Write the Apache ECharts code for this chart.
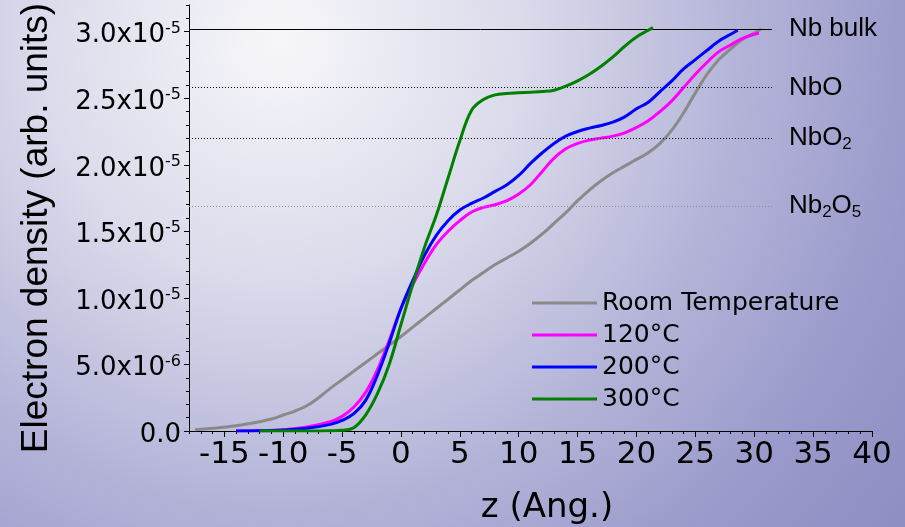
<!DOCTYPE html>
<html>
<head>
<meta charset="utf-8">
<script src="https://cdn.jsdelivr.net/npm/echarts@6/dist/echarts.min.js"></script>
<style>
  html, body { margin: 0; padding: 0; }
  #chart {
    width: 905px; height: 527px;
    background: radial-gradient(circle 820px at 280px 40px,
      #f7f7fa 0%, #dadaeb 30%, #b4b4d9 56%, #9999cb 79%, #8c8cc2 100%);
  }
</style>
</head>
<body>
<div id="chart"></div>
<script>
// Electron density profiles (units of 1e-5) versus depth z in Angstrom.
const seriesNames = ['Room Temperature', '120°C', '200°C', '300°C'];
const seriesColors = ['#8a8a8a', '#ff00ff', '#0000ff', '#008000'];

const roomZ = [-17.5, -16, -14, -12, -11, -10, -9, -8, -7, -6, -5, -4, -3, -2, -1, 0, 1, 2, 3, 4, 5,
  6, 7, 8, 9, 10, 11, 12, 13, 14, 15, 16, 17, 18, 19, 20, 21, 22, 23, 24, 25, 26, 27, 28, 29, 30, 30.6];
const roomV = [0.01, 0.02, 0.04, 0.07, 0.09, 0.12, 0.15, 0.19, 0.25, 0.32, 0.385, 0.45, 0.515, 0.58,
  0.645, 0.71, 0.78, 0.85, 0.92, 0.99, 1.06, 1.13, 1.19, 1.25, 1.30, 1.35, 1.41, 1.48, 1.56, 1.64,
  1.73, 1.81, 1.88, 1.94, 1.99, 2.04, 2.09, 2.16, 2.26, 2.39, 2.54, 2.68, 2.79, 2.87, 2.94, 2.99, 3.02];

const t120Z = [-14, -12, -10, -8, -6, -5, -4, -3, -2, -1, 0, 1, 2, 3, 4, 5, 6, 7, 8, 9, 10,
  11, 12, 13, 14, 15, 16, 17, 18, 19, 20, 21, 22, 23, 24, 25, 26, 27, 28, 29, 30, 30.4];
const t120V = [0, 0.003, 0.01, 0.03, 0.07, 0.11, 0.18, 0.29, 0.46, 0.68, 0.92, 1.10, 1.26, 1.40,
  1.50, 1.58, 1.645, 1.68, 1.70, 1.73, 1.78, 1.85, 1.95, 2.05, 2.12, 2.16, 2.185, 2.20, 2.215, 2.24,
  2.28, 2.33, 2.40, 2.48, 2.58, 2.68, 2.77, 2.85, 2.90, 2.95, 2.98, 2.99];

const t200Z = [-14, -12, -10, -8, -6, -5, -4, -3, -2, -1, 0, 1, 2, 3, 4, 5, 6, 7, 8, 9, 10,
  11, 12, 13, 14, 15, 16, 17, 18, 19, 20, 21, 22, 23, 24, 25, 26, 27, 28, 28.6];
const t200V = [0, 0.002, 0.008, 0.02, 0.05, 0.08, 0.13, 0.23, 0.42, 0.66, 0.92, 1.13, 1.32, 1.47,
  1.58, 1.66, 1.71, 1.75, 1.80, 1.85, 1.92, 2.01, 2.09, 2.16, 2.215, 2.25, 2.275, 2.295, 2.32, 2.36,
  2.42, 2.47, 2.55, 2.63, 2.72, 2.79, 2.86, 2.93, 2.98, 3.01];

const t300Z = [-12, -8, -6, -5, -4, -3, -2, -1, 0, 1, 2, 3, 4, 5, 6, 7, 8, 9, 10,
  11, 12, 13, 14, 15, 16, 17, 18, 19, 20, 21, 21.4];
const t300V = [0, 0, 0.002, 0.006, 0.025, 0.12, 0.28, 0.50, 0.80, 1.10, 1.38, 1.62, 1.90, 2.18,
  2.41, 2.49, 2.525, 2.535, 2.54, 2.545, 2.55, 2.56, 2.59, 2.63, 2.68, 2.74, 2.81, 2.89, 2.96, 3.01, 3.03];

// Reference density levels of the niobium phases.
const refLevels = [3.02, 2.58, 2.20, 1.69];
const refLabels = ['{m|Nb bulk}', '{m|NbO}', '{m|NbO}{s|2}', '{m|Nb}{s|2}{m|O}{s|5}'];
const refColors = ['#000000', '#000000', '#000000', '#8f8f8f'];
const refTypes = ['solid', [1, 2], [1, 2], [1, 2]];
const refStartZ = -18;
const refEndZ = 31.5;

// Axis ticks and labels.
const xMajorTicks = [-15, -10, -5, 0, 5, 10, 15, 20, 25, 30, 35, 40];
const yMajorTicks = [0, 0.5, 1.0, 1.5, 2.0, 2.5, 3.0];
const yTickMain = ['0.0', '5.0x10', '1.0x10', '1.5x10', '2.0x10', '2.5x10', '3.0x10'];
const yTickExp = ['', '-6', '-5', '-5', '-5', '-5', '-5'];

const xMinorTicks = [];
for (let t = -18; t <= 40; t++) xMinorTicks.push(t);
const yMinorTicks = [];
for (let i = 0; i <= 32; i++) yMinorTicks.push(i / 10);

function pairs(zs, vs) { return zs.map((z, i) => [z, vs[i]]); }

const SANS = 'DejaVu Sans';
const ARIAL = 'Liberation Sans';

const curves = [
  pairs(roomZ, roomV), pairs(t120Z, t120V), pairs(t200Z, t200V), pairs(t300Z, t300V)
];

const series = curves.map((d, i) => ({
  name: seriesNames[i],
  type: 'line',
  data: d,
  smooth: 0.4,
  symbol: 'none',
  showSymbol: false,
  lineStyle: { color: seriesColors[i], width: 3 },
  itemStyle: { color: seriesColors[i] },
  z: 3 + i
}));

series.push({
  type: 'line',
  data: [],
  silent: true,
  markLine: {
    silent: true,
    symbol: 'none',
    animation: false,
    data: refLevels.map((lvl, i) => [
      {
        coord: [refStartZ, lvl],
        lineStyle: { color: refColors[i], type: refTypes[i], width: 1 },
        label: {
          show: true,
          position: 'end',
          distance: 17,
          formatter: refLabels[i],
          rich: {
            m: { fontFamily: ARIAL, fontSize: 26, lineHeight: 30, color: '#000' },
            s: { fontFamily: ARIAL, fontSize: 17, lineHeight: 14, verticalAlign: 'bottom', color: '#000' }
          }
        }
      },
      { coord: [refEndZ, lvl] }
    ])
  }
});

const option = {
  animation: false,
  backgroundColor: 'transparent',
  grid: { left: 189, right: 33, top: 5, bottom: 96, containLabel: false, outerBoundsMode: 'none' },
  legend: {
    orient: 'vertical',
    left: 527,
    top: 282,
    icon: 'rect',
    itemWidth: 65,
    itemHeight: 3,
    itemGap: 0,
    data: seriesNames,
    textStyle: { fontFamily: SANS, fontSize: 25, color: '#000', lineHeight: 32 }
  },
  xAxis: [
    {
      type: 'value', min: -18, max: 40, position: 'bottom',
      axisLine: { show: true, onZero: false, lineStyle: { color: '#000', width: 1 } },
      axisTick: { show: true, customValues: xMajorTicks, length: 6, lineStyle: { color: '#000' } },
      axisLabel: { customValues: xMajorTicks, fontFamily: SANS, fontSize: 31, color: '#000', margin: 8 },
      splitLine: { show: false }
    },
    {
      type: 'value', min: -18, max: 40, position: 'bottom',
      axisLine: { show: false, onZero: false },
      axisTick: { show: true, customValues: xMinorTicks, length: 3, lineStyle: { color: '#000' } },
      axisLabel: { show: false },
      splitLine: { show: false }
    }
  ],
  yAxis: [
    {
      type: 'value', min: 0, max: 3.2, position: 'left',
      axisLine: { show: true, onZero: false, lineStyle: { color: '#000', width: 1 } },
      axisTick: { show: true, customValues: yMajorTicks, length: 5, lineStyle: { color: '#000' } },
      axisLabel: {
        customValues: yMajorTicks,
        margin: 8,
        padding: [8, 0, 0, 0],
        formatter: function (v) {
          const k = yMajorTicks.findIndex(t => Math.abs(t - v) < 1e-9);
          if (k < 0) return '';
          return yTickExp[k] ? '{m|' + yTickMain[k] + '}{p|' + yTickExp[k] + '}' : '{m|' + yTickMain[k] + '}';
        },
        rich: {
          m: { fontFamily: SANS, fontSize: 26, lineHeight: 30, color: '#000' },
          p: { fontFamily: SANS, fontSize: 16, lineHeight: 12, verticalAlign: 'top', color: '#000' }
        }
      },
      splitLine: { show: false }
    },
    {
      type: 'value', min: 0, max: 3.2, position: 'left',
      axisLine: { show: false, onZero: false },
      axisTick: { show: true, customValues: yMinorTicks, length: 3, lineStyle: { color: '#000' } },
      axisLabel: { show: false },
      splitLine: { show: false }
    }
  ],
  graphic: [
    {
      type: 'text', x: 37, y: 228, rotation: Math.PI / 2,
      style: {
        text: 'Electron density (arb. units)', fontFamily: ARIAL, fontSize: 37,
        fill: '#000', align: 'center', verticalAlign: 'middle'
      }
    },
    {
      type: 'text', x: 547, y: 508,
      style: {
        text: 'z (Ang.)', fontFamily: SANS, fontSize: 34,
        fill: '#000', align: 'center', verticalAlign: 'middle'
      }
    }
  ],
  series: series
};

const chart = echarts.init(document.getElementById('chart'), null, { renderer: 'canvas' });
chart.setOption(option);
</script>
</body>
</html>
